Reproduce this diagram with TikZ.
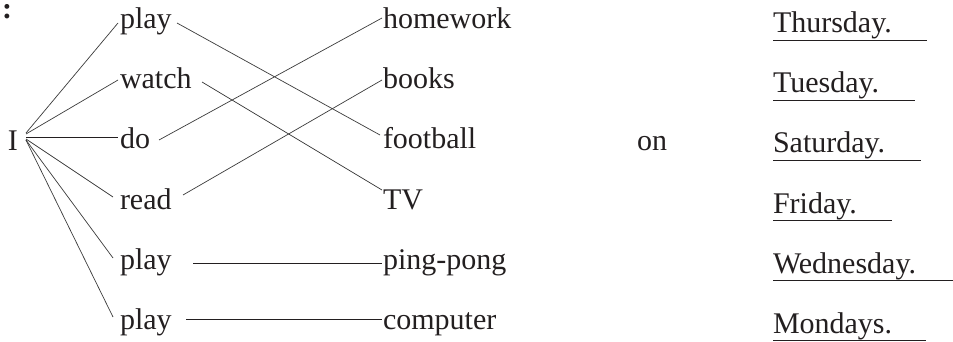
\documentclass[tikz,border=0pt]{standalone}
\usepackage{fontspec}
\setmainfont{Liberation Serif}
\definecolor{ink}{HTML}{231F20}
\definecolor{lineink}{HTML}{3A3A3A}
\begin{document}
\begin{tikzpicture}[x=1pt,y=-1pt,
  w/.style={anchor=base west,inner sep=0pt,outer sep=0pt,text=ink,font=\fontsize{30}{30}\selectfont},
  ln/.style={draw=lineink,line width=0.7pt},
  hl/.style={draw=ink,line width=0.9pt},
  ul/.style={draw=ink,line width=0.9pt}]
\useasboundingbox (0,0) rectangle (953,342);
% colon
\node[w] (colon) at (2,19) {\textbf{:}};
% subject
\node[w] (I) at (8,150) {I};
% verbs
\node[w] (v1) at (120,29) {play};
\node[w] (v2) at (120,89) {watch};
\node[w] (v3) at (120,149) {do};
\node[w] (v4) at (120,209) {read};
\node[w] (v5) at (120,269) {play};
\node[w] (v6) at (120,329) {play};
% objects
\node[w] (o1) at (383,29) {homework};
\node[w] (o2) at (383,89) {books};
\node[w] (o3) at (383,149) {football};
\node[w] (o4) at (383,209) {TV};
\node[w] (o5) at (383,269) {ping-pong};
\node[w] (o6) at (383,329) {computer};
% on
\node[w] (on) at (637,150) {on};
% days
\node[w] (d1) at (773,33) {Thursday.};
\node[w] (d2) at (773,93) {Tuesday.};
\node[w] (d3) at (773,153) {Saturday.};
\node[w] (d4) at (773,213) {Friday.};
\node[w] (d5) at (773,273) {Wednesday.};
\node[w] (d6) at (773,333) {Mondays.};
% I to verbs
\draw[ln] ([shift={(18,-17)}]I.base west) -- ([shift={(-2,-6)}]v1.base west);
\draw[ln] ([shift={(18,-16)}]I.base west) -- ([shift={(-2,-9)}]v2.base west);
\draw[hl] ([shift={(18,-13)}]I.base west) -- ([shift={(-2,-12)}]v3.base west);
\draw[ln] ([shift={(18,-11)}]I.base west) -- ([shift={(-7,-12)}]v4.base west);
\draw[ln] ([shift={(18,-10)}]I.base west) -- ([shift={(-7,-11)}]v5.base west);
\draw[ln] ([shift={(18,-10)}]I.base west) -- ([shift={(-7,-12)}]v6.base west);
% verbs to objects
\draw[ln] ([shift={(57,-6)}]v1.base west) -- ([shift={(-3,-14)}]o3.base west);
\draw[ln] ([shift={(82,-7)}]v2.base west) -- ([shift={(-1,-19)}]o4.base west);
\draw[ln] ([shift={(39,-9)}]v3.base west) -- ([shift={(-1,-11)}]o1.base west);
\draw[ln] ([shift={(63,-14)}]v4.base west) -- ([shift={(-1,-9)}]o2.base west);
\draw[hl] ([shift={(73,-6)}]v5.base west) -- ([shift={(-1,-6)}]o5.base west);
\draw[hl] ([shift={(66,-10)}]v6.base west) -- ([shift={(-1,-10)}]o6.base west);
% underlines
\draw[ul] ([yshift=-7pt]d1.base west) -- ++(154,0);
\draw[ul] ([yshift=-7pt]d2.base west) -- ++(142,0);
\draw[ul] ([yshift=-7pt]d3.base west) -- ++(148,0);
\draw[ul] ([yshift=-7pt]d4.base west) -- ++(119,0);
\draw[ul] ([yshift=-7pt]d5.base west) -- ++(180,0);
\draw[ul] ([yshift=-7pt]d6.base west) -- ++(153,0);
\end{tikzpicture}
\end{document}
